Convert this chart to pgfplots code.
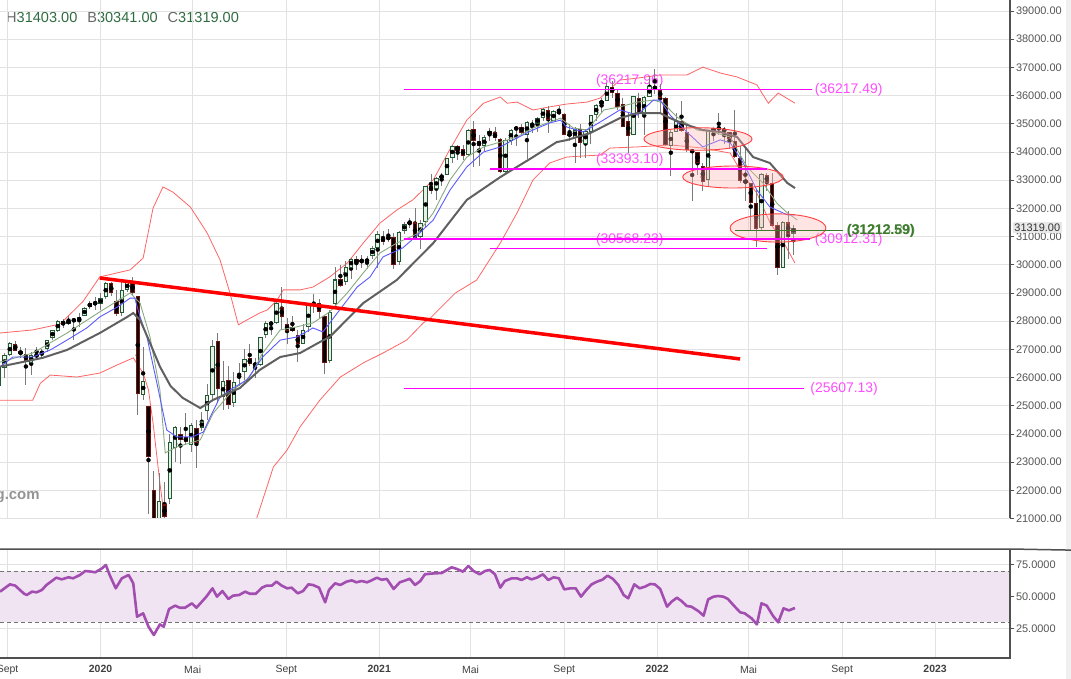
\documentclass[border=0pt]{standalone}
\usepackage{fontspec}
\setmainfont{Liberation Sans}
\usepackage{pgfplots}
\usepackage{pgfplotstable}
\pgfplotsset{compat=1.18}

\definecolor{upfill}{HTML}{E9EEE9}
\definecolor{upline}{HTML}{1F5A33}
\definecolor{dnfill}{HTML}{0A0000}
\definecolor{dnline}{HTML}{6E1410}
\definecolor{wick}{HTML}{7A7A7A}
\definecolor{gridc}{HTML}{E2E2E2}
\definecolor{axisc}{HTML}{505050}
\definecolor{lab}{HTML}{555555}
\definecolor{bbred}{HTML}{FF6464}
\definecolor{maG}{HTML}{606060}
\definecolor{maB}{HTML}{5A5AFF}
\definecolor{maV}{HTML}{88AA80}
\definecolor{levelc}{HTML}{FF00FF}
\definecolor{magt}{HTML}{FF4CFF}
\definecolor{grn}{HTML}{3C7A2C}
\definecolor{rsi}{HTML}{A24DB0}
\definecolor{band}{HTML}{F1E4F2}
\definecolor{hdr}{HTML}{666666}
\definecolor{hnum}{HTML}{2F6B40}

% weekly candles, x = days since 1 Jan 2020 (drawn 9 days before the Friday)
\pgfplotstableread{
x o h l c
-140 25900 26250 25500 25629
-133 25700 26450 25340 26403
-126 26350 26860 26000 26797
-119 26800 27250 26750 27220
-112 27200 27300 26930 26935
-105 26950 27080 26700 26820
-98 26850 27050 25740 26573
-91 26500 26900 26080 26817
-84 26800 27100 26730 26770
-77 26800 27000 26700 26958
-70 27000 27350 26900 27347
-63 27400 27700 27350 27681
-56 27650 28050 27600 28005
-49 28000 28090 27750 27876
-42 27900 28175 27870 28051
-35 28050 28090 27325 28015
-28 28000 28290 27780 28135
-21 28200 28500 28170 28455
-14 28500 28700 28450 28645
-7 28640 28870 28400 28634
0 28600 29000 28400 28824
7 28850 29375 28800 29348
14 29350 29375 28900 28990
21 28700 29100 28170 28256
28 28300 29380 28170 29102
35 29100 29460 29050 29398
42 29400 29570 28940 28992
49 28900 28900 24680 25409
56 25400 27100 25200 25865
63 25000 25000 21150 23186
70 22000 22700 18900 19174
77 19000 22600 18210 21636
84 21500 22300 20730 21052
91 21700 24000 21500 23719
98 23500 24300 23000 24242
105 24000 24240 22940 23775
112 23900 24760 23600 23723
119 23600 24400 23360 24331
126 24200 24500 22790 23685
133 24200 24770 24100 24465
140 24800 25760 24500 25383
147 25400 27340 25200 27111
154 27300 27580 25100 25605
161 25300 26600 24840 25871
168 25900 26400 24900 25015
175 25100 26200 24960 25827
182 26000 26500 25700 26075
189 26200 27000 25900 26671
196 26700 27200 26400 26469
203 26500 26700 26000 26428
210 26450 27450 26400 27433
217 27500 28000 27400 27931
224 27900 28000 27500 27930
231 27950 28700 27900 28654
238 28500 29200 27700 28133
245 27900 28100 27200 27666
252 27800 28200 27600 27657
259 27500 27700 26540 27174
266 27200 27900 27200 27682
273 27800 28600 27600 28586
280 28600 28950 28300 28606
287 28650 28800 28100 28335
294 28200 28200 26140 26501
301 26600 28400 26500 28323
308 28600 29930 28500 29479
315 29500 30000 29200 29263
322 29400 30120 29300 29910
329 29900 30230 29500 30218
336 30200 30320 29800 30046
343 30100 30350 29900 30179
350 30100 30300 29850 30199
357 30300 30650 30200 30606
364 30600 31200 29880 31097
371 31000 31200 30700 30814
378 30900 31270 30800 30997
385 31000 31110 29850 29982
392 30100 31200 30000 31148
399 31200 31500 31100 31458
406 31500 31650 31300 31494
413 31500 32000 30930 30932
420 31000 31600 30550 31496
427 31500 32800 31300 32779
434 32800 33230 32500 32628
441 32700 33100 32300 33072
448 33100 33250 32800 33153
455 33200 33800 33200 33800
462 33800 34260 33600 34200
469 34200 34260 33700 34043
476 34100 34250 33700 33874
483 33900 34800 33850 34778
490 34800 35090 33470 34382
497 34400 34600 33500 34207
504 34200 34600 34050 34529
511 34600 34850 34400 34756
518 34700 34900 34400 34479
525 34450 34500 33270 33290
532 33300 34500 33270 34433
539 34400 34800 34250 34786
546 34800 34900 34200 34870
553 34900 35000 34600 34687
560 34600 35100 33740 35061
567 35000 35150 34680 34935
574 35000 35250 34700 35208
581 35200 35550 35100 35515
588 35500 35630 34690 35120
595 35100 35500 35100 35455
602 35450 35630 35300 35369
609 35350 35400 34600 34607
616 34650 35000 34400 34584
623 34500 34900 33600 34798
630 34800 35000 33800 34326
637 34300 34800 33800 34746
644 34700 35300 34300 35295
651 35300 35700 35100 35677
658 35700 35900 35400 35820
665 35800 36450 35800 36328
672 36300 36500 35900 36100
679 36100 36200 35500 35601
686 35700 35900 34900 34899
693 35100 35400 33950 34580
700 34600 36000 34600 35971
707 35900 36100 35200 35365
714 35300 35980 34600 35950
721 35950 36680 35950 36338
728 36320 36950 36070 36231
735 36200 36400 35400 35911
742 35900 35950 34200 34265
749 34200 34800 33150 34725
756 34700 35400 34700 35089
763 35100 35800 34700 34738
770 34700 34990 34000 34079
777 34000 34100 32270 34058
784 34000 34000 33200 33614
791 33500 33600 32630 32944
798 33000 34780 32800 34754
805 34700 34860 34400 34861
812 34860 35400 34600 34818
819 34800 34900 34300 34721
826 34700 34700 34100 34451
833 34400 35500 33800 33811
840 33800 34200 32900 32977
847 33000 34120 32270 32899
854 32900 32900 31230 32197
861 32200 32650 30640 31262
868 31300 33250 31200 33213
875 33200 33260 32600 32900
882 32900 33270 31390 31393
889 31400 31500 29650 29888
896 29900 31550 29900 31501
903 31500 31900 30200 31097
910 31100 31403 30341 31319
}\candles

\pgfplotsset{priceaxis/.style={
  at={(0bp,160.4bp)}, anchor=south west,
  width=1010bp, height=518.6bp, scale only axis,
  xmin=-132, xmax=1194.4, ymin=21000, ymax=39390}}

\begin{document}
\begin{tikzpicture}
\path[use as bounding box] (0,0) rectangle (1071bp,679bp);
\fill[gray!12] (1066bp,0) rectangle (1071bp,679bp);

\node[anchor=west, inner sep=0, font=\fontsize{14.6}{16}\selectfont] at (6bp,661bp)
  {\textcolor{hdr}{H}\textcolor{hnum}{31403.00}\hspace{10bp}\textcolor{hdr}{B}\textcolor{hnum}{30341.00}\hspace{10bp}\textcolor{hdr}{C}\textcolor{hnum}{31319.00}};

% ---------------- price panel ----------------
\begin{axis}[
  priceaxis,
  axis line style={draw=none},
  xtick={-122,0,121,244,366,486,609,731,851,974,1096},
  xticklabels={}, xtick style={draw=none},
  ytick={21000,22000,...,39000}, scaled y ticks=false,
  ytick pos=right, yticklabel pos=right,
  tick align=outside, major tick length=4bp,
  ytick style={axisc, line width=0.8bp},
  yticklabel={\pgfmathprintnumber[fixed, fixed zerofill, precision=2, 1000 sep={}, assume math mode=true]{\tick}},
  yticklabel style={font=\fontsize{11}{12}\selectfont, text=lab, xshift=-1.5bp},
  xmajorgrids, ymajorgrids, grid style={gridc, line width=0.9bp},
  clip mode=individual,
]
% Bollinger bands
\addplot[color=bbred, line width=0.8bp] coordinates {(-132,27580) (-89,27690) (-53,27900) (-23,28700) (-1,29570) (39,29820) (56,30240) (69,32010) (82,32760) (95,32580) (118,32050) (140,31130) (157,30170) (170,29000) (181,27870) (192,28040) (209,28290) (219,28400) (232,28750) (240,29110) (262,29110) (279,29210) (301,29570) (324,30060) (345,30770) (367,31480) (389,31940) (410,32300) (437,33010) (459,34100) (481,35130) (503,35730) (525,35950) (534,35730) (547,35770) (568,35490) (590,35600) (612,35700) (639,35770) (656,35910) (682,36550) (705,36620) (735,36730) (770,36730) (791,37010) (814,36800) (836,36660) (862,36380) (877,35730) (890,36090) (912,35730)};
\addplot[color=bbred, line width=0.8bp] coordinates {(-132,25200) (-89,25200) (-79,25800) (-66,26090) (-31,26020) (-1,26160) (22,26450) (43,26700) (56,26160) (63,25560) (69,24390) (78,22260) (85,20800) (92,19500) (170,19500) (205,21000) (227,22830) (245,23430) (262,24250) (288,25200) (315,26020) (345,26520) (371,26870) (402,27330) (424,27940) (433,28110) (466,29000) (494,29460) (525,30770) (547,31840) (568,33010) (590,33610) (612,33820) (634,33860) (656,33890) (669,34140) (705,34180) (748,34250) (791,34140) (827,33960) (844,33180) (862,32540) (879,31500) (899,30700) (912,30060)};

\node[text=magt, font=\fontsize{14}{15}\selectfont, inner sep=0] at (axis cs:695,36518) {(36217.96)};
\node[text=magt, font=\fontsize{14}{15}\selectfont, inner sep=0] at (axis cs:695,33716) {(33393.10)};
\node[text=magt, font=\fontsize{14}{15}\selectfont, inner sep=0] at (axis cs:695,30879) {(30568.23)};
\node[text=magt, font=\fontsize{14}{15}\selectfont, inner sep=0, anchor=west] at (axis cs:938,36217.96) {(36217.49)};
\node[text=magt, font=\fontsize{14}{15}\selectfont, inner sep=0, anchor=west] at (axis cs:938,30880) {(30912.31)};
\node[text=magt, font=\fontsize{14}{15}\selectfont, inner sep=0, anchor=west] at (axis cs:932,25607.13) {(25607.13)};
\node[text=grn!70, font=\fontsize{14}{15}\selectfont, inner sep=0, anchor=west] at (axis cs:981,31212.59) {(31213.89)};
\node[text=grn, font=\fontsize{14}{15}\selectfont\bfseries, inner sep=0, anchor=west] at (axis cs:980,31212.59) {(31212.59)};

% wicks
\addplot[only marks, mark=none, error bars/.cd, y dir=both, y explicit, error mark=none,
  error bar style={draw=wick, line width=0.8bp}]
  table[x=x, y expr={(\thisrow{h}+\thisrow{l})/2}, y error expr={(\thisrow{h}-\thisrow{l})/2}] {\candles};
% rising bodies
\addplot[only marks, mark=none, restrict expr to domain={\thisrow{c}-\thisrow{o}}{0:100000},
  error bars/.cd, y dir=both, y explicit, error mark=none,
  error bar style={draw=upline, line width=4.4bp}]
  table[x=x, y expr={(\thisrow{o}+\thisrow{c})/2}, y error expr={max(abs(\thisrow{c}-\thisrow{o})/2,18)}] {\candles};
\addplot[only marks, mark=none, restrict expr to domain={\thisrow{c}-\thisrow{o}}{0:100000},
  error bars/.cd, y dir=both, y explicit, error mark=none,
  error bar style={draw=upfill, line width=2.4bp}]
  table[x=x, y expr={(\thisrow{o}+\thisrow{c})/2}, y error expr={max(abs(\thisrow{c}-\thisrow{o})/2-36,0)}] {\candles};
% falling bodies
\addplot[only marks, mark=none, restrict expr to domain={\thisrow{c}-\thisrow{o}}{-100000:-0.5},
  error bars/.cd, y dir=both, y explicit, error mark=none,
  error bar style={draw=dnline, line width=4.4bp}]
  table[x=x, y expr={(\thisrow{o}+\thisrow{c})/2}, y error expr={max(abs(\thisrow{c}-\thisrow{o})/2,18)}] {\candles};
\addplot[only marks, mark=none, restrict expr to domain={\thisrow{c}-\thisrow{o}}{-100000:-0.5},
  error bars/.cd, y dir=both, y explicit, error mark=none,
  error bar style={draw=dnfill, line width=2.4bp}]
  table[x=x, y expr={(\thisrow{o}+\thisrow{c})/2}, y error expr={max(abs(\thisrow{c}-\thisrow{o})/2-36,0)}] {\candles};

% moving averages
\addplot[color=maV, line width=0.9bp] coordinates {(-132,26550) (-89,26870) (-44,27580) (-1,28330) (39,29000) (52,28640) (65,27440) (78,25560) (85,23330) (100,23540) (131,23790) (148,24740) (174,25560) (196,26020) (213,26870) (236,27690) (258,27800) (279,27940) (301,28330) (324,29000) (345,29710) (367,30420) (389,30770) (416,31100) (437,31840) (459,33010) (481,33820) (503,34180) (525,34350) (547,34530) (568,34850) (590,35060) (604,35200) (621,34850) (639,34780) (661,35490) (682,35600) (705,35770) (726,35840) (739,35740) (757,35240) (783,34780) (804,34710) (827,34530) (849,33470) (870,32900) (888,32190) (902,31840) (915,31590)};
\addplot[color=maB, line width=0.9bp] coordinates {(-132,26380) (-115,26730) (-89,26730) (-66,26980) (-44,27330) (-18,27760) (-1,28150) (22,28500) (39,28820) (45,28820) (52,28150) (61,27440) (74,25810) (87,24140) (100,23900) (121,23900) (135,24070) (144,24600) (157,25310) (174,25630) (192,25910) (213,26730) (236,27330) (258,27440) (279,27760) (292,27620) (311,28290) (337,29210) (354,29570) (371,30280) (397,30600) (416,31050) (437,31590) (459,32650) (481,33470) (503,34000) (525,34180) (547,34500) (568,34780) (590,35030) (604,35130) (612,34890) (634,34710) (656,35060) (682,35490) (705,35310) (726,35840) (735,35840) (748,35310) (770,34710) (791,34180) (814,34430) (827,34320) (844,33610) (862,32650) (879,32050) (902,31770) (912,31770)};
\addplot[color=maG, line width=2bp] coordinates {(-132,26387) (-76,26700) (-44,26980) (-1,27580) (35,28150) (43,28290) (52,28040) (65,27230) (78,26390) (92,25700) (108,25280) (131,24920) (148,25210) (183,25630) (209,26270) (236,26730) (262,26870) (288,27260) (301,27440) (345,28640) (389,29460) (437,30770) (481,32300) (525,33110) (568,33820) (599,34350) (612,34420) (643,34670) (682,35200) (705,35380) (735,35380) (748,35200) (770,34960) (791,34780) (814,34710) (836,34530) (857,33820) (879,33610) (902,32900) (912,32720)};

% trend line
\addplot[color=red, line width=3.5bp] coordinates {(-1,29532) (840,26660)};

% marked zones
\draw[red!75, line width=0.9bp, fill=red!30, fill opacity=0.35] (axis cs:784.6,34461) ellipse [x radius=71, y radius=400];
\draw[red!75, line width=0.9bp, fill=red!30, fill opacity=0.35] (axis cs:830.6,33113) ellipse [x radius=66, y radius=390];
\draw[red!75, line width=0.9bp, fill=red!30, fill opacity=0.35] (axis cs:889.7,31305) ellipse [x radius=63, y radius=500];

\node[anchor=west, inner sep=0, text=gray!85, font=\bfseries\fontsize{15}{16}\selectfont] at (axis cs:-138,21766) {g.com};

\draw[axisc, line width=1.1bp] (rel axis cs:1,0) -- (rel axis cs:1,1);
\draw[gridc, line width=0.9bp] (rel axis cs:0,0) -- (rel axis cs:1,0);
\node[anchor=west, fill=gray!18, inner sep=1.5bp, text=black!80, font=\fontsize{11}{12}\selectfont] at (axis cs:1198,31319) {31319.00};
\end{axis}

% ---------------- RSI panel ----------------
\begin{axis}[
  at={(0bp,21bp)}, anchor=south west,
  width=1010bp, height=109bp, scale only axis,
  xmin=-132, xmax=1194.4, ymin=2.2, ymax=87.15,
  axis line style={draw=none},
  xtick={-122,0,121,244,366,486,609,731,851,974,1096},
  xticklabels={Sept,\textbf{2020},Mai,Sept,\textbf{2021},Mai,Sept,\textbf{2022},Mai,Sept,\textbf{2023}},
  xtick style={draw=none},
  xticklabel style={font=\fontsize{10.5}{12}\selectfont, text=black!75},
  ytick={25,50,75}, scaled y ticks=false,
  ytick pos=right, yticklabel pos=right,
  tick align=outside, major tick length=4bp,
  ytick style={axisc, line width=0.8bp},
  yticklabel={\pgfmathprintnumber[fixed, fixed zerofill, precision=4, assume math mode=true]{\tick}},
  yticklabel style={font=\fontsize{11}{12}\selectfont, text=lab, xshift=-1.5bp},
  xmajorgrids, ymajorgrids, grid style={gridc, line width=0.9bp},
  clip mode=individual,
]
\addplot[draw=none, fill=band] coordinates {(-132,30) (1194.4,30) (1194.4,70) (-132,70)} -- cycle;
\addplot[color=gray!90!black, line width=1bp, dash pattern=on 4bp off 3bp] coordinates {(-132,70) (1194.4,70)};
\addplot[color=gray!90!black, line width=1bp, dash pattern=on 4bp off 3bp] coordinates {(-132,30) (1194.4,30)};
\addplot[color=rsi, line width=2.6bp, line join=round] coordinates {(-132,53.9) (-119,59.6) (-112,58.6) (-101,52.6) (-97,51.3) (-90,53.9) (-84,53.4) (-77,55.2) (-71,59.1) (-58,64.8) (-51,63.5) (-42,65.1) (-36,64.3) (-27,66.9) (-20,70) (-12,69.5) (-7,69) (2,72.1) (7,74.7) (12,66.9) (20,56.5) (28,64.3) (37,66.9) (43,60.4) (48,34.4) (56,37) (63,26.6) (70,20.1) (78,28.4) (83,26.6) (90,40.4) (98,43) (104,41.4) (111,41.4) (120,44.8) (126,41.4) (139,50) (147,56.5) (153,50) (160,54.4) (168,48.2) (174,50.8) (182,51.3) (190,53.9) (196,52.3) (204,52.3) (212,57) (218,58.6) (225,58.6) (231,61.7) (238,58.6) (245,56.5) (251,57) (259,52.6) (266,54.4) (273,59.6) (279,59.1) (287,57) (295,45.6) (300,55.2) (308,60.4) (315,59.1) (323,61.7) (330,62.7) (336,61.2) (343,62.2) (350,61.2) (356,62.7) (363,64.8) (369,63.2) (376,63.8) (385,56) (393,61.2) (402,63) (406,64) (413,59.1) (420,62.2) (426,67.4) (433,67.9) (439,68.2) (448,68.4) (455,70.8) (461,72.9) (468,71.6) (476,69.5) (483,73.9) (490,70) (498,67.4) (505,70) (511,70.8) (518,67.4) (525,57) (531,62.2) (540,64.3) (547,64.3) (553,63) (560,65.1) (566,63.5) (573,64.8) (581,67.4) (588,63) (595,65.1) (602,64.3) (609,55.7) (617,56.5) (624,56.5) (631,50) (638,55.2) (645,59.6) (652,61.7) (659,63.2) (666,66.4) (673,63.8) (680,59.1) (687,51.3) (693,48.7) (701,59.6) (708,56.5) (715,57.8) (722,59.9) (728,59.6) (735,56) (744,42.2) (750,46.1) (757,49.2) (763,46.6) (770,42.7) (776,42.2) (785,38.8) (792,35.2) (798,47.9) (805,50) (811,50.5) (818,50) (824,48.2) (831,43.5) (840,37.8) (846,37) (855,33.1) (862,28.4) (868,44.8) (875,43) (883,35.2) (890,30) (897,40.9) (904,39.3) (912,41.2)};
\draw[axisc, line width=1.5bp] (rel axis cs:0,1) -- (rel axis cs:1,1) -- ++(56bp,0);
\draw[axisc, line width=1.2bp] (rel axis cs:0,0) -- (rel axis cs:1,0) -- (rel axis cs:1,1);
\end{axis}

% ---------------- price levels, on top of everything ----------------
\begin{axis}[priceaxis, hide axis, clip mode=individual]
\addplot[draw=levelc, line width=1.4bp, mark=none] coordinates {(399,36217.96) (934,36217.96)};
\addplot[draw=levelc, line width=1.4bp, mark=none] coordinates {(512,33393.10) (875,33393.10)};
\addplot[draw=levelc, line width=1.4bp, mark=none] coordinates {(399,30912.31) (932,30912.31)};
\addplot[draw=levelc, line width=1.4bp, mark=none] coordinates {(512,30568.23) (875,30568.23)};
\addplot[draw=levelc, line width=1.4bp, mark=none] coordinates {(399,25607.13) (924,25607.13)};
\addplot[draw=grn, line width=1.1bp, mark=none] coordinates {(833,31212.59) (975,31212.59)};
\end{axis}
\end{tikzpicture}
\end{document}
